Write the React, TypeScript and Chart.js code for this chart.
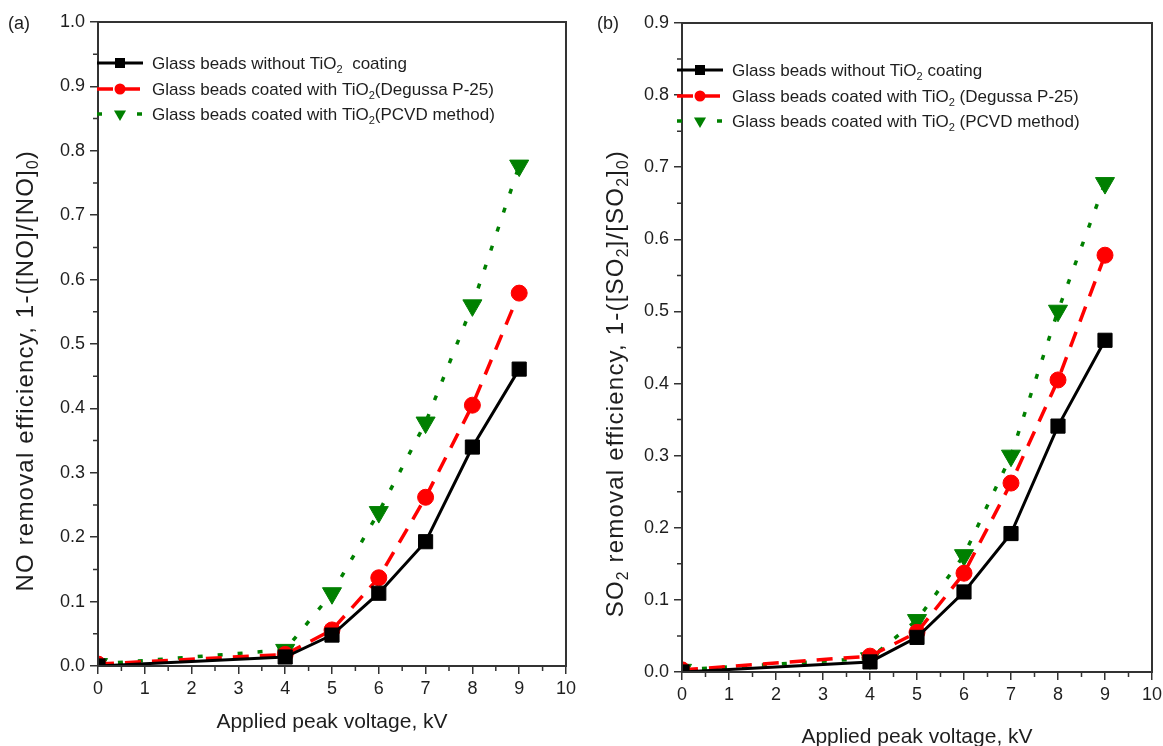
import React, { useEffect, useRef } from 'react';
import { Chart, registerables } from 'chart.js';

Chart.register(...registerables);

// ---------------- data ----------------
const voltages = [0, 4, 5, 6, 7, 8, 9];
const xTickValues = [0, 1, 2, 3, 4, 5, 6, 7, 8, 9, 10];

// panel (a) NO removal efficiency
const noUncoated = [0.0, 0.014, 0.048, 0.113, 0.193, 0.34, 0.461];
const noDegussa = [0.003, 0.018, 0.056, 0.137, 0.262, 0.405, 0.579];
const noPcvd = [0.003, 0.025, 0.113, 0.239, 0.378, 0.56, 0.777];

// panel (b) SO2 removal efficiency
const so2Uncoated = [0.0, 0.014, 0.048, 0.111, 0.192, 0.341, 0.46];
const so2Degussa = [0.003, 0.022, 0.055, 0.137, 0.262, 0.405, 0.578];
const so2Pcvd = [0.003, 0.019, 0.072, 0.162, 0.3, 0.501, 0.678];

const seriesNames = [
  'Glass beads without TiO₂ coating',
  'Glass beads coated with TiO₂ (Degussa P-25)',
  'Glass beads coated with TiO₂ (PCVD method)',
];

type Seg = [string, boolean?];

const legendTextA: Seg[][] = [
  [['Glass beads without TiO'], ['2', true], ['  coating']],
  [['Glass beads coated with TiO'], ['2', true], ['(Degussa P-25)']],
  [['Glass beads coated with TiO'], ['2', true], ['(PCVD method)']],
];
const legendTextB: Seg[][] = [
  [['Glass beads without TiO'], ['2', true], [' coating']],
  [['Glass beads coated with TiO'], ['2', true], [' (Degussa P-25)']],
  [['Glass beads coated with TiO'], ['2', true], [' (PCVD method)']],
];
const yTitleA: Seg[] = [['NO removal efficiency, 1-([NO]/[NO]'], ['0', true], [')']];
const yTitleB: Seg[] = [
  ['SO'], ['2', true], [' removal efficiency, 1-([SO'], ['2', true], [']/[SO'], ['2', true], [']'], ['0', true], [')'],
];
const xTitle = 'Applied peak voltage, kV';

// ---------------- styles ----------------
const FONT = '"Liberation Sans", Arial, Helvetica, sans-serif';
const TEXT = '#1e1e1e';
const AXIS = '#333333';
const H = 746;

const seriesStyles = [
  { color: '#000000', dash: [] as number[], width: 3, point: 'rect', radius: 10, rot: 0, lg: 10 },
  { color: '#ff0000', dash: [16, 11], width: 3.5, point: 'circle', radius: 8, rot: 0, lg: 5.5 },
  { color: '#008000', dash: [5, 15], width: 3.5, point: 'triangle', radius: 11, rot: 180, lg: 7 },
];

function drawRich(ctx: CanvasRenderingContext2D, segs: Seg[], x: number, y: number, size: number, spacing = 0) {
  let cx = x;
  for (const [t, sub] of segs) {
    const s = sub ? size * 0.65 : size;
    ctx.font = `${s}px ${FONT}`;
    (ctx as any).letterSpacing = `${spacing}px`;
    ctx.fillText(t, cx, sub ? y + size * 0.22 : y);
    cx += ctx.measureText(t).width;
  }
  (ctx as any).letterSpacing = '0px';
  return cx - x;
}
function richWidth(ctx: CanvasRenderingContext2D, segs: Seg[], size: number, spacing = 0) {
  let w = 0;
  for (const [t, sub] of segs) {
    ctx.font = `${sub ? size * 0.65 : size}px ${FONT}`;
    (ctx as any).letterSpacing = `${spacing}px`;
    w += ctx.measureText(t).width;
  }
  (ctx as any).letterSpacing = '0px';
  return w;
}

function legendMarker(ctx: CanvasRenderingContext2D, kind: string, x: number, y: number, r: number, color: string) {
  ctx.fillStyle = color;
  ctx.beginPath();
  if (kind === 'rect') {
    ctx.rect(x - r / 2, y - r / 2, r, r);
  } else if (kind === 'circle') {
    ctx.arc(x, y, r, 0, Math.PI * 2);
  } else {
    const w = r * 1.732 / 2;
    ctx.moveTo(x - w, y - r / 2);
    ctx.lineTo(x + w, y - r / 2);
    ctx.lineTo(x, y + r);
    ctx.closePath();
  }
  ctx.fill();
}

interface PanelSpec {
  tag: string;
  yMax: number;
  values: number[][];
  yTitle: Seg[];
  legend: Seg[][];
  area: { left: number; top: number; rightPad: number; bottom: number };
  tagPos: [number, number];
  yTitlePos: [number, number];
  xTitleBase: number;
  legendX: number;
  legendRows: number[];
}

const panelA: PanelSpec = {
  tag: '(a)',
  yMax: 1.0,
  values: [noUncoated, noDegussa, noPcvd],
  yTitle: yTitleA,
  legend: legendTextA,
  area: { left: 98, top: 22, rightPad: 14, bottom: 666 },
  tagPos: [8, 29],
  yTitlePos: [33, 150],
  xTitleBase: 728,
  legendX: 97,
  legendRows: [63, 89, 114],
};
const panelB: PanelSpec = {
  tag: '(b)',
  yMax: 0.9,
  values: [so2Uncoated, so2Degussa, so2Pcvd],
  yTitle: yTitleB,
  legend: legendTextB,
  area: { left: 102, top: 23, rightPad: 15, bottom: 672 },
  tagPos: [17, 29],
  yTitlePos: [43, 150],
  xTitleBase: 743,
  legendX: 97,
  legendRows: [70, 96, 121],
};

function makeConfig(spec: PanelSpec): any {
  const decor = {
    id: 'decor',
    afterDraw(chart: any) {
      const { ctx, chartArea: a, scales } = chart;
      const xs = scales.x;
      const ys = scales.y;
      ctx.save();
      // frame
      ctx.strokeStyle = AXIS;
      ctx.lineWidth = 2;
      ctx.strokeRect(a.left, a.top, a.right - a.left, a.bottom - a.top);
      // minor ticks
      ctx.lineWidth = 1.5;
      ctx.beginPath();
      for (let i = 0; i < xTickValues.length - 1; i++) {
        const px = xs.getPixelForValue((xTickValues[i] + xTickValues[i + 1]) / 2);
        ctx.moveTo(px, a.bottom);
        ctx.lineTo(px, a.bottom + 5);
      }
      const n = Math.round(spec.yMax / 0.1);
      for (let i = 0; i < n; i++) {
        const py = ys.getPixelForValue(i * 0.1 + 0.05);
        ctx.moveTo(a.left, py);
        ctx.lineTo(a.left - 5, py);
      }
      ctx.stroke();

      ctx.fillStyle = TEXT;
      ctx.textBaseline = 'alphabetic';
      ctx.textAlign = 'left';
      // panel tag
      ctx.font = `18px ${FONT}`;
      ctx.fillText(spec.tag, spec.tagPos[0], spec.tagPos[1]);
      // x title
      ctx.font = `21px ${FONT}`;
      ctx.textAlign = 'center';
      ctx.fillText(xTitle, (a.left + a.right) / 2, spec.xTitleBase);
      ctx.textAlign = 'left';
      // y title (rotated, text end at top position)
      const ySize = 24;
      const ySp = 1.2;
      const w = richWidth(ctx, spec.yTitle, ySize, ySp);
      ctx.save();
      ctx.translate(spec.yTitlePos[0], spec.yTitlePos[1] + w);
      ctx.rotate(-Math.PI / 2);
      ctx.fillStyle = TEXT;
      drawRich(ctx, spec.yTitle, 0, 0, ySize, ySp);
      ctx.restore();

      // legend
      const lx0 = spec.legendX;
      const lx1 = lx0 + 46;
      const mx = (lx0 + lx1) / 2;
      spec.legend.forEach((segs, i) => {
        const st = seriesStyles[i];
        const ry = spec.legendRows[i];
        ctx.strokeStyle = st.color;
        ctx.lineWidth = st.width;
        ctx.setLineDash(st.dash);
        ctx.beginPath();
        ctx.moveTo(lx0, ry);
        ctx.lineTo(lx1, ry);
        ctx.stroke();
        ctx.setLineDash([]);
        legendMarker(ctx, st.point, mx, ry, st.lg, st.color);
        ctx.fillStyle = TEXT;
        drawRich(ctx, segs, lx0 + 55, ry + 6, 17);
      });
      ctx.restore();
    },
  };

  const tickFont = { family: FONT, size: 18 };
  return {
    type: 'line',
    data: {
      datasets: spec.values.map((vals, i) => {
        const st = seriesStyles[i];
        return {
          label: seriesNames[i],
          data: voltages.map((x, j) => ({ x, y: vals[j] })),
          borderColor: st.color,
          backgroundColor: st.color,
          borderWidth: st.width,
          borderDash: st.dash,
          pointStyle: st.point,
          pointRadius: st.radius,
          pointRotation: st.rot,
          pointBorderWidth: 1,
          pointBorderColor: st.color,
          pointBackgroundColor: st.color,
          tension: 0,
          fill: false,
          clip: 0,
        };
      }),
    },
    options: {
      animation: false,
      responsive: false,
      maintainAspectRatio: false,
      events: [],
      layout: { padding: { left: 0, top: spec.area.top, right: spec.area.rightPad, bottom: 0 } },
      plugins: { legend: { display: false }, tooltip: { enabled: false }, title: { display: false } },
      scales: {
        x: {
          type: 'linear',
          min: 0,
          max: 10,
          afterBuildTicks: (s: any) => { s.ticks = xTickValues.map((v) => ({ value: v })); },
          afterFit: (s: any) => { s.height = H - spec.area.bottom; },
          ticks: { font: tickFont, color: TEXT, padding: 4, maxRotation: 0, autoSkip: false, callback: (v: number) => String(v) },
          grid: { drawOnChartArea: false, drawTicks: true, tickLength: 8, color: AXIS, lineWidth: 1.5 },
          border: { display: true, color: AXIS, width: 2 },
        },
        y: {
          type: 'linear',
          min: 0,
          max: spec.yMax,
          afterFit: (s: any) => { s.width = spec.area.left; },
          ticks: { stepSize: 0.1, font: tickFont, color: TEXT, padding: 5, autoSkip: false, callback: (v: number) => Number(v).toFixed(1) },
          grid: { drawOnChartArea: false, drawTicks: true, tickLength: 8, color: AXIS, lineWidth: 1.5 },
          border: { display: true, color: AXIS, width: 2 },
        },
      },
    },
    plugins: [decor],
  };
}

function Panel({ spec, left, width }: { spec: PanelSpec; left: number; width: number }) {
  const ref = useRef<HTMLCanvasElement>(null);
  useEffect(() => {
    const chart = new Chart(ref.current as HTMLCanvasElement, makeConfig(spec));
    return () => chart.destroy();
  }, [spec]);
  return (
    <canvas
      ref={ref}
      width={width}
      height={H}
      style={{ position: 'absolute', left, top: 0, width, height: H, display: 'block' }}
    />
  );
}

export default function App() {
  return (
    <div style={{ position: 'fixed', left: 0, top: 0, width: 1163, height: H, background: '#ffffff', overflow: 'hidden' }}>
      <Panel spec={panelA} left={0} width={580} />
      <Panel spec={panelB} left={580} width={587} />
    </div>
  );
}
